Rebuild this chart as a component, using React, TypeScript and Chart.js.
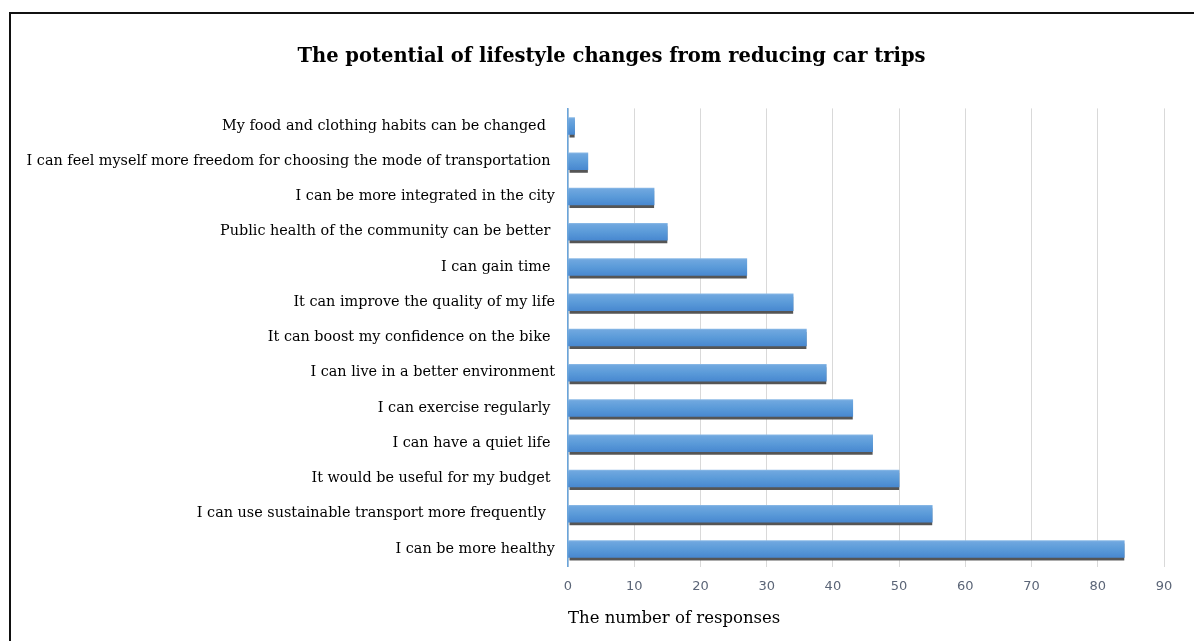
import React, { useEffect, useRef } from "react";
import { Chart, registerables } from "chart.js";

Chart.register(...registerables);

const categories: string[] = [
  "My food and clothing habits can be changed  ",
  "I can feel myself more freedom for choosing the mode of transportation ",
  "I can be more integrated in the city",
  "Public health of the community can be better ",
  "I can gain time ",
  "It can improve the quality of my life",
  "It can boost my confidence on the bike ",
  "I can live in a better environment",
  "I can exercise regularly ",
  "I can have a quiet life ",
  "It would be useful for my budget ",
  "I can use sustainable transport more frequently  ",
  "I can be more healthy",
];

const responses: number[] = [1, 3, 13, 15, 27, 34, 36, 39, 43, 46, 50, 55, 84];

const xTicks: number[] = [0, 10, 20, 30, 40, 50, 60, 70, 80, 90];

const chartTitle = "The potential of lifestyle changes from reducing car trips";
const xAxisTitle = "The number of responses";

const SERIF = "'DejaVu Serif', 'Liberation Serif', serif";
const SANS = "'DejaVu Sans', 'Liberation Sans', sans-serif";

const shadowPlugin = {
  id: "barShadow",
  beforeDatasetsDraw(chart: any) {
    const ctx = chart.ctx;
    const meta = chart.getDatasetMeta(0);
    ctx.save();
    ctx.fillStyle = "#555555";
    meta.data.forEach((bar: any) => {
      const { x, y, base, height } = bar.getProps(["x", "y", "base", "height"], true);
      ctx.fillRect(base + 1, y - height / 2 + 3, x - base - 1, height);
    });
    ctx.restore();
  },
};

const titlePlugin = {
  id: "offsetTitle",
  afterDraw(chart: any) {
    const ctx = chart.ctx;
    ctx.save();
    ctx.fillStyle = "#000000";
    ctx.font = `bold 19.5px ${SERIF}`;
    ctx.textAlign = "center";
    ctx.textBaseline = "middle";
    ctx.fillText(chartTitle, 600.5, 42.5);
    ctx.restore();
  },
};

export default function App() {
  const ref = useRef<HTMLCanvasElement>(null);

  useEffect(() => {
    if (!ref.current) return;
    const chart = new Chart(ref.current, {
      type: "bar",
      data: {
        labels: categories,
        datasets: [
          {
            data: responses,
            barThickness: 17,
            borderWidth: 0,
            backgroundColor: (c: any) => {
              const ch = c.chart;
              const ys = ch.scales && ch.scales.y;
              if (!ys || c.type !== "data") return "#5b9bd5";
              const cy = ys.getPixelForValue(c.dataIndex);
              if (!Number.isFinite(cy)) return "#5b9bd5";
              const g = ch.ctx.createLinearGradient(0, cy - 8.5, 0, cy + 8.5);
              g.addColorStop(0, "#8ab9e6");
              g.addColorStop(0.08, "#6fa7df");
              g.addColorStop(0.5, "#5b9bd9");
              g.addColorStop(1, "#4888d0");
              return g;
            },
          },
        ],
      },
      options: {
        indexAxis: "y",
        responsive: false,
        animation: false,
        layout: { padding: { left: 0, right: 30, top: 94.4, bottom: 0 } },
        plugins: {
          legend: { display: false },
          tooltip: { enabled: false },
          title: { display: false },
        },
        scales: {
          x: {
            type: "linear",
            min: 0,
            max: 90,
            afterBuildTicks: (s: any) => {
              s.ticks = xTicks.map((v) => ({ value: v }));
            },
            grid: { color: "#d9d9d9", lineWidth: 1, drawTicks: false },
            border: { display: false },
            ticks: {
              padding: 12,
              color: "#5b6577",
              font: { family: SANS, size: 13 },
            },
            title: {
              display: true,
              text: xAxisTitle,
              align: "start",
              color: "#000000",
              font: { family: SERIF, size: 16.5 },
              padding: { top: 3, bottom: 12 },
            },
          },
          y: {
            type: "category",
            afterFit: (s: any) => {
              s.width = 557;
            },
            grid: { display: false, drawTicks: false },
            border: { display: true, color: "#6aa5dc", width: 1.5 },
            ticks: {
              padding: 13,
              color: "#000000",
              autoSkip: false,
              font: { family: SERIF, size: 14.4 },
            },
          },
        },
      },
      plugins: [shadowPlugin, titlePlugin],
    } as any);
    return () => chart.destroy();
  }, []);

  return (
    <div
      style={{
        position: "fixed",
        left: 9,
        top: 12,
        width: 1185,
        height: 629,
        boxSizing: "border-box",
        borderTop: "2px solid #111",
        borderLeft: "2px solid #111",
        background: "#fff",
      }}
    >
      <canvas ref={ref} width={1183} height={627} style={{ display: "block" }} />
    </div>
  );
}
